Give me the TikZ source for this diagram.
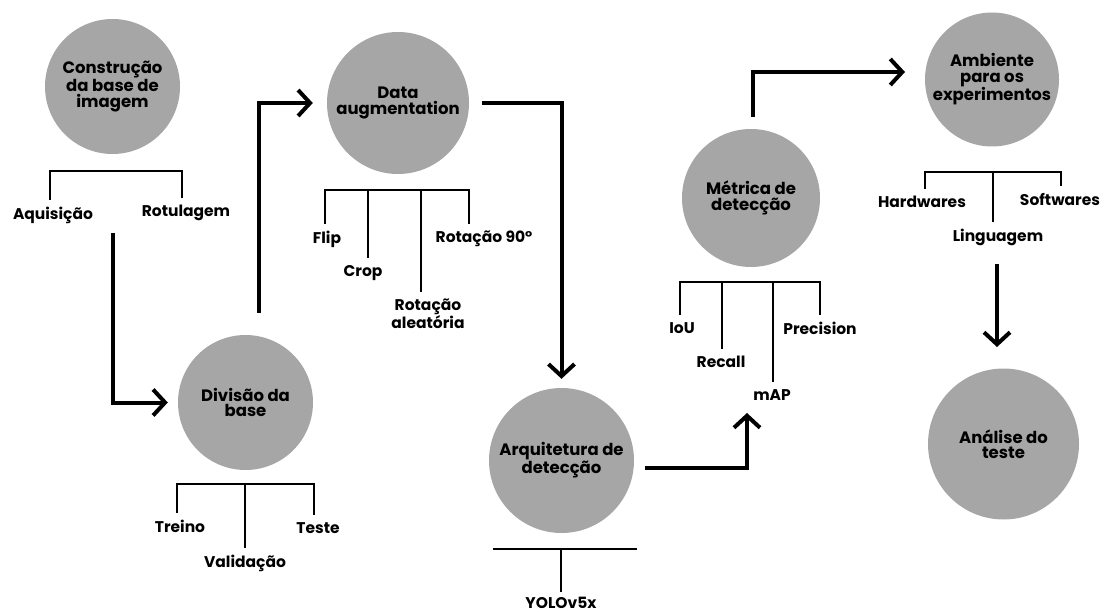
\documentclass[tikz,border=0pt]{standalone}
\usepackage{fontspec}
\setmainfont{Poppins}
\usepackage{xcolor}
\usetikzlibrary{arrows.meta}
\definecolor{bubblegray}{HTML}{A6A6A6}

\begin{document}
\begin{tikzpicture}[x=1pt,y=-1pt,
    bubble/.style={circle,fill=bubblegray,inner sep=0pt,align=center,
      font=\bfseries\fontsize{16.5}{15.5}\selectfont},
    leaf/.style={anchor=north,align=center,inner sep=2pt,
      font=\bfseries\fontsize{15.5}{18}\selectfont},
    bar/.style={line width=1.3pt},
    flow/.style={line width=4pt,-{Straight Barb[length=12pt,width=26pt]}}]
\useasboundingbox (0,0) rectangle (1105,612);

    % the stages
    \node[bubble,minimum size=135pt] (base) at (112.5,86.5) {Construção\\da base de\\imagem};
    \node[bubble,minimum size=135pt] (div) at (245.5,402.5) {Divisão da\\base};
    \node[bubble,minimum size=142pt] (data) at (398,103) {Data\\augmentation};
    \node[bubble,minimum size=145pt] (arq) at (561.5,460.5) {Arquitetura de\\detecção};
    \node[bubble,minimum size=138pt] (met) at (751,198) {Métrica de\\detecção};
    \node[bubble,minimum size=134pt] (amb) at (992,79.5) {Ambiente\\para os\\experimentos};
    \node[bubble,minimum size=151pt] (ana) at (1003.5,444) {Análise do\\teste};

    % the items under each stage
    \node[leaf] (aq) at (53,205) {Aquisição};
    \node[leaf] (rot) at (186,203) {Rotulagem};
    \node[leaf] (tr) at (180,518) {Treino};
    \node[leaf] (val) at (245,553) {Validação};
    \node[leaf] (tes) at (318,520) {Teste};
    \node[leaf] (flip) at (327,229) {Flip};
    \node[leaf] (crop) at (363,263) {Crop};
    \node[leaf] (rale) at (428,297) {Rotação\\aleatória};
    \node[leaf] (r90) at (484,229) {Rotação 90°};
    \node[leaf] (yolo) at (561,595) {YOLOv5x};
    \node[leaf] (iou) at (682,320) {IoU};
    \node[leaf] (rec) at (721,354) {Recall};
    \node[leaf] (map) at (772,387) {mAP};
    \node[leaf] (prec) at (820,320) {Precision};
    \node[leaf] (hw) at (922,194) {Hardwares};
    \node[leaf] (ling) at (998,227) {Linguagem};
    \node[leaf] (sw) at (1060,191) {Softwares};

    % brackets
    \coordinate (b1a) at (50,171);
    \coordinate (b1b) at (182,171);
    \draw[bar,shorten <=5pt,shorten >=5pt] (b1a |- aq.north) -- (b1a) -- (b1b) -- (b1b |- rot.north);

    \coordinate (b2a) at (177,484);
    \coordinate (b2b) at (245,484);
    \coordinate (b2c) at (314,484);
    \draw[bar,shorten <=5pt,shorten >=5pt] (b2a |- tr.north) -- (b2a) -- (b2c) -- (b2c |- tes.north);
    \draw[bar,shorten >=5pt] (b2b) -- (b2b |- val.north);

    \coordinate (b3a) at (325,190);
    \coordinate (b3b) at (368,190);
    \coordinate (b3c) at (421,190);
    \coordinate (b3d) at (469,190);
    \draw[bar,shorten <=5pt,shorten >=5pt] (b3a |- flip.north) -- (b3a) -- (b3d) -- (b3d |- r90.north);
    \draw[bar,shorten >=5pt] (b3b) -- (b3b |- crop.north);
    \draw[bar,shorten >=5pt] (b3c) -- (b3c |- rale.north);

    \coordinate (b4a) at (493,549);
    \coordinate (b4b) at (561,549);
    \coordinate (b4c) at (637,549);
    \draw[bar] (b4a) -- (b4c);
    \draw[bar,shorten >=3pt] (b4b) -- (b4b |- yolo.north);

    \coordinate (b5a) at (680,282);
    \coordinate (b5b) at (722,282);
    \coordinate (b5c) at (773,282);
    \coordinate (b5d) at (820,282);
    \draw[bar,shorten <=5pt,shorten >=5pt] (b5a |- iou.north) -- (b5a) -- (b5d) -- (b5d |- prec.north);
    \draw[bar,shorten >=5pt] (b5b) -- (b5b |- rec.north);
    \draw[bar,shorten >=5pt] (b5c) -- (b5c |- map.north);

    \coordinate (b6a) at (925,172);
    \coordinate (b6b) at (993,172);
    \coordinate (b6c) at (1061,172);
    \draw[bar,shorten <=5pt,shorten >=5pt] (b6a |- hw.north) -- (b6a) -- (b6c) -- (b6c |- sw.north);
    \draw[bar,shorten >=5pt] (b6b) -- (b6b |- ling.north);

    % draw the arrows
    \coordinate (a1) at (113,233);
    \coordinate (a2) at (259,313);
    \coordinate (a4) at (645,468);
    \coordinate (a4e) at (747,413);
    \coordinate (a5) at (753,117);
    \coordinate (a5e) at (905,72);
    \coordinate (a6) at (997,264);
    \coordinate (a6e) at (997,347);
    \draw[flow] (a1) |- ([xshift=-10pt]div.west);
    \draw[flow] (a2) |- ([xshift=-14pt]data.west);
    \draw[flow] ([xshift=13pt]data.east) -| ([yshift=9pt]arq.north);
    \draw[flow] (a4) -| (a4e);
    \draw[flow] (a5) |- (a5e);
    \draw[flow] (a6) -- (a6e);

\end{tikzpicture}
\end{document}
